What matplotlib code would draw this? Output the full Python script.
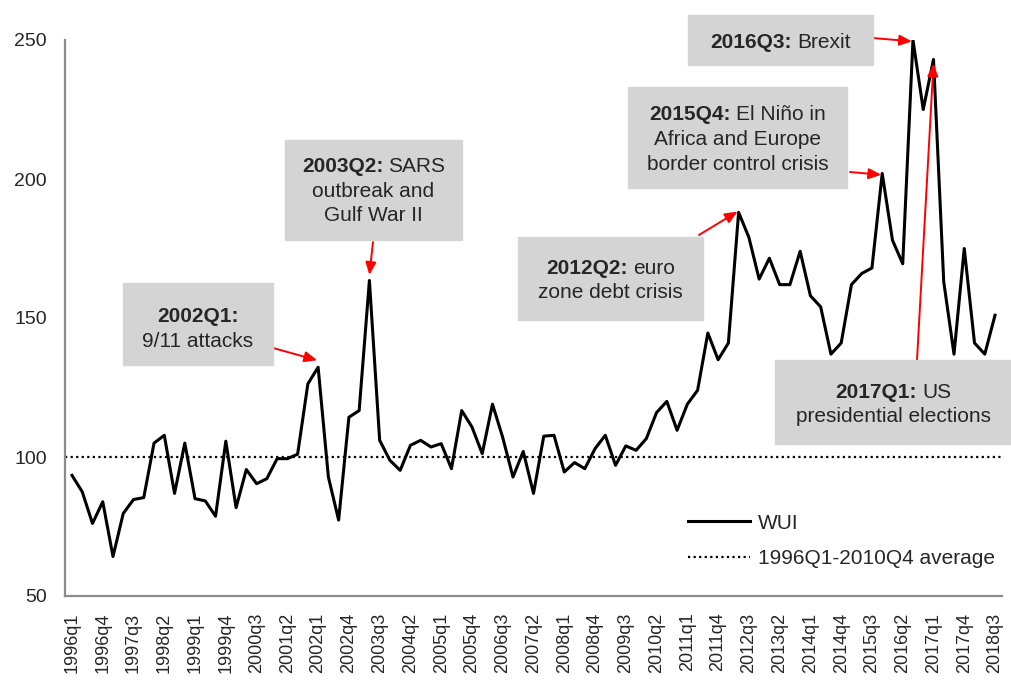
import matplotlib.pyplot as plt
from matplotlib.patches import Rectangle

plt.rcParams['font.family'] = ['Liberation Sans', 'DejaVu Sans']

# quarterly World Uncertainty Index, 1996q1 .. 2018q3
years = list(range(1996, 2019))
quarters = [f'{y}q{q}' for y in years for q in range(1, 5)][:91]

wui = [
    93.4, 87.5, 76.1, 83.9, 64.2, 79.7, 84.7, 85.4,        # 1996-1997
    105.0, 107.8, 86.9, 105.0, 85.0, 84.2, 78.7, 105.7,    # 1998-1999
    81.8, 95.5, 90.4, 92.2, 99.4, 99.4, 101.0, 126.3,      # 2000-2001
    132.3, 92.8, 77.3, 114.3, 116.7, 163.5, 106.0, 98.8,   # 2002-2003
    95.2, 104.2, 106.0, 103.6, 104.8, 95.8, 116.7, 110.8,  # 2004-2005
    101.2, 119.0, 107.0, 92.8, 102.0, 86.9, 107.5, 107.8,  # 2006-2007
    94.6, 98.0, 95.8, 103.0, 107.8, 97.0, 104.0, 102.4,    # 2008-2009
    106.6, 116.0, 120.0, 109.6, 119.0, 124.0, 144.6, 135.0,  # 2010-2011
    141.0, 188.0, 179.0, 164.0, 171.5, 162.0, 162.0, 174.0,  # 2012-2013
    158.0, 154.0, 137.0, 141.0, 162.0, 166.0, 168.0, 202.0,  # 2014-2015
    178.0, 169.5, 250.0, 225.0, 243.0, 163.0, 137.0, 175.0,  # 2016-2017
    141.0, 137.0, 151.0,                                     # 2018
]
average = 100.0

TXT = '#262626'
W, H = 1012, 682
fig = plt.figure(figsize=(W / 100, H / 100), dpi=100)
ax = fig.add_axes([65 / W, 1 - 596 / H, (1002 - 65) / W, (596 - 40) / H])

x = list(range(len(wui)))
ax.plot(x, wui, color='black', lw=2.2, label='WUI', zorder=3)
ax.axhline(average, color='black', lw=1.6, ls=(0, (1.0, 1.5)),
           label='1996Q1-2010Q4 average')

ax.set_ylim(50, 250)
ax.set_xlim(-0.68, 90.68)
ax.set_yticks([50, 100, 150, 200, 250])
ax.set_xticks(x[::3])
ax.set_xticklabels(quarters[::3], rotation=90, fontsize=13, color=TXT)
ax.tick_params(axis='y', length=0, labelsize=14, labelcolor=TXT, pad=13)
ax.tick_params(axis='x', length=0, pad=12)
for s in ['top', 'right']:
    ax.spines[s].set_visible(False)
for s in ['left', 'bottom']:
    ax.spines[s].set_color('#8c8c8c')
    ax.spines[s].set_linewidth(1.6)

ax.legend(loc='center left', bbox_to_anchor=(669 / W, 1 - 541 / H),
          bbox_transform=fig.transFigure, frameon=False, fontsize=15,
          handlelength=3.0, handletextpad=0.35, labelspacing=0.8,
          labelcolor=TXT)

renderer = fig.canvas.get_renderer()


def px(xp, yp):
    return xp / W, 1 - yp / H


def box(x0, y0, x1, y1, ytop, bold, lines, step=24.5, fs=15):
    fig.patches.append(Rectangle(px(x0, y1), (x1 - x0) / W, (y1 - y0) / H,
                                 transform=fig.transFigure, color='#d4d4d4',
                                 zorder=0))
    cx = (x0 + x1) / 2
    # first line: bold date + regular remainder, centred together
    tb = fig.text(0, 0, bold, fontsize=fs, fontweight='bold', color=TXT,
                  va='center', ha='left')
    wb = tb.get_window_extent(renderer).width
    rest = lines[0]
    wr = 0
    if rest:
        tr = fig.text(0, 0, rest, fontsize=fs, color=TXT, va='center', ha='left')
        wr = tr.get_window_extent(renderer).width
    gap = 5 if rest else 0
    start = cx - (wb + gap + wr) / 2
    tb.set_position(px(start, ytop))
    if rest:
        tr.set_position(px(start + wb + gap, ytop))
    for i, line in enumerate(lines[1:], start=1):
        fig.text(*px(cx, ytop + i * step), line, fontsize=fs, color=TXT,
                 ha='center', va='center')


def arrow(tail, idx, dx=0.0, dy=0.0):
    ax.annotate('', xy=(idx + dx, wui[idx] + dy), xycoords='data',
                xytext=px(*tail), textcoords='figure fraction',
                arrowprops=dict(arrowstyle='-|>,head_length=0.75,head_width=0.32',
                                color='#ff0000', lw=1.4, shrinkA=0, shrinkB=0),
                zorder=4)


box(123, 283, 273, 365, 317, '2002Q1:', ['', '9/11 attacks'])
arrow((273, 348), quarters.index('2002q1'), dx=-0.1, dy=2.5)

box(285, 140, 462, 240, 167, '2003Q2:', ['SARS', 'outbreak and', 'Gulf War II'])
arrow((373, 242), quarters.index('2003q2'), dx=0.0, dy=2.0)

box(518, 237, 703, 320, 268, '2012Q2:', ['euro', 'zone debt crisis'])
arrow((699, 235), quarters.index('2012q2'), dx=-0.1, dy=0.3)

box(628, 87, 847, 188, 115, '2015Q4:', ['El Niño in', 'Africa and Europe',
                                        'border control crisis'])
arrow((850, 172), quarters.index('2015q4'), dx=-0.1, dy=-0.5)

box(688, 15, 873, 65, 42, '2016Q3:', ['Brexit'])
arrow((873, 38), quarters.index('2016q3'), dx=-0.1, dy=-0.5)

box(775, 360, 1012, 444, 392, '2017Q1:', ['US', 'presidential elections'])
arrow((917, 360), quarters.index('2017q1'), dx=0.0, dy=-1.5)

fig.savefig('out.png', dpi=100)
